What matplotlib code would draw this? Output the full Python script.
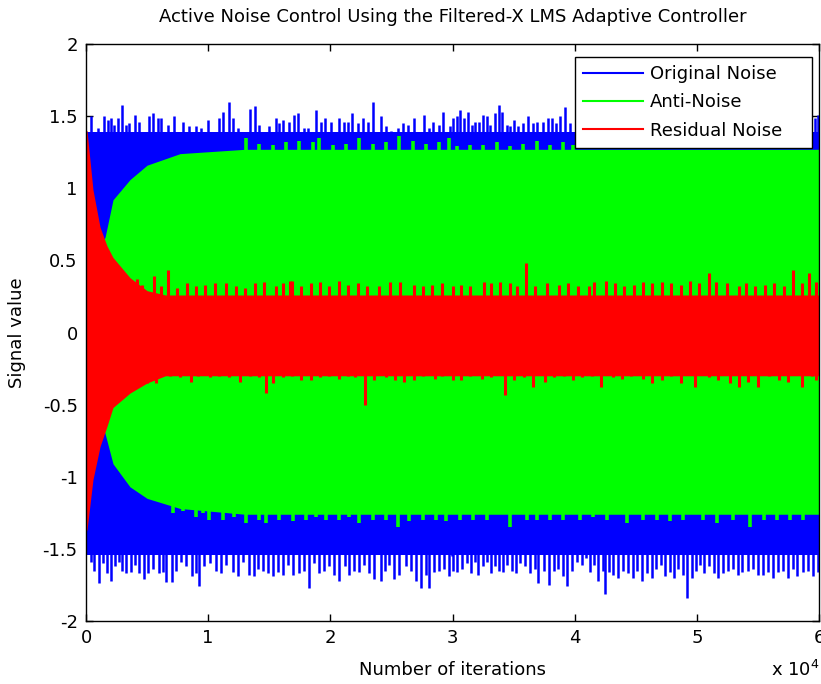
import numpy as np
import matplotlib
matplotlib.use('Agg')
import matplotlib.pyplot as plt

plt.rcParams['font.family'] = 'DejaVu Sans'
plt.rcParams['mathtext.default'] = 'regular'

# envelope of each signal (iterations -> signal value)
blue_env_x = [0, 60000]
blue_env_top = [1.39, 1.39]
blue_env_bot = [-1.54, -1.54]

green_env_x = [0, 570, 1150, 1560, 2210, 3600, 5000, 7700, 13000, 60000]
green_env_top = [0.0, 0.40, 0.60, 0.66, 0.92, 1.06, 1.16, 1.24, 1.27, 1.27]
green_env_bot = [0.0, -0.40, -0.62, -0.70, -0.91, -1.07, -1.15, -1.22, -1.26, -1.26]

red_env_x = [0, 80, 570, 1150, 1720, 2210, 3600, 5000, 6500, 60000]
red_env_top = [1.40, 1.40, 0.99, 0.73, 0.60, 0.52, 0.38, 0.29, 0.26, 0.26]
red_env_bot = [-1.37, -1.37, -1.02, -0.79, -0.65, -0.52, -0.42, -0.35, -0.30, -0.30]

# noise peaks above / below the envelopes
blue_peak_top_x = [409, 955, 1500, 1774, 2047, 2320, 2593, 2920, 3275, 3548, 4039, 4366, 4639,
                   5131, 5458, 5867, 6140, 6686, 7232, 7914, 8460, 9006, 9415, 9961, 10370,
                   10861, 11243, 11680, 12008, 12417, 12826, 13427, 13863, 14191, 14955, 15555,
                   15828, 16156, 16647, 17056, 17356, 17875, 18148, 18830, 19239, 19594, 20058,
                   20740, 21150, 21423, 21750, 22241, 22651, 23060, 23524, 24152, 24561, 24970,
                   25516, 25926, 26335, 26881, 27699, 28109, 28436, 28927, 29255, 29800, 30070,
                   30343, 30616, 30943, 31298, 31571, 31844, 32198, 32526, 32853, 33072, 33481,
                   33836, 34027, 34436, 34709, 35064, 35391, 35801, 36210, 36565, 36947, 37438,
                   37793, 38120, 38475, 38802, 39212, 39621, 59680, 59952]
blue_peak_top = [1.50, 1.42, 1.50, 1.47, 1.49, 1.44, 1.49, 1.58, 1.44, 1.45, 1.51, 1.46, 1.39,
                 1.50, 1.52, 1.49, 1.49, 1.44, 1.50, 1.46, 1.43, 1.43, 1.42, 1.47, 1.39,
                 1.49, 1.53, 1.60, 1.49, 1.42, 1.37, 1.55, 1.57, 1.44, 1.43, 1.49,
                 1.45, 1.47, 1.46, 1.51, 1.52, 1.42, 1.42, 1.54, 1.46, 1.49, 1.46,
                 1.49, 1.46, 1.46, 1.52, 1.45, 1.49, 1.46, 1.60, 1.50, 1.43, 1.40,
                 1.42, 1.45, 1.44, 1.49, 1.51, 1.42, 1.46, 1.44, 1.53, 1.43, 1.49,
                 1.50, 1.54, 1.49, 1.53, 1.44, 1.46, 1.46, 1.51, 1.50, 1.44, 1.52,
                 1.58, 1.53, 1.44, 1.43, 1.47, 1.43, 1.45, 1.50, 1.45, 1.46, 1.46,
                 1.49, 1.49, 1.45, 1.50, 1.56, 1.45, 1.49, 1.51]

blue_peak_bot_x = [409, 682, 1092, 1365, 1692, 2047, 2401, 2729, 2947, 3275, 3684, 4039, 4366,
                   4776, 5049, 5458, 5949, 6277, 6550, 7041, 7368, 7778, 8187, 8678, 9006, 9279,
                   9688, 10152, 10643, 11052, 11462, 12008, 12417, 12826, 13318, 13781, 14054,
                   14464, 14873, 15282, 15692, 16101, 16510, 16920, 17466, 17875, 18284, 18694,
                   19048, 19512, 19922, 20331, 20740, 21231, 21559, 21968, 22378, 22787, 23197,
                   23606, 24152, 24506, 24834, 25243, 25653, 26198, 26608, 27017, 27426, 27835,
                   28109, 28518, 28927, 29337, 29746, 30019,
                   29933, 30343, 30752, 31162, 31489, 31844, 32116, 32526, 32853, 33126, 33481,
                   33836, 34163, 34491, 34846, 35200, 35528, 35937, 36347, 36756, 37029, 37493,
                   37929, 38311, 38666, 39021, 39403, 39758, 40167, 40576, 40931, 41259, 41600,
                   41941, 42296, 42487, 42842, 43169, 43578, 43988, 44397, 44752, 45107, 45516,
                   45898, 46307, 46662, 47071, 47398, 47808, 48162, 48490, 48845, 49172, 49608,
                   49936, 50263, 50618, 51000, 51409, 51764, 52173, 52555, 52965, 53401, 53729,
                   54166, 54575, 54984, 55394, 55803, 56212, 56621, 57031, 57440, 57849, 58231,
                   58667, 59077, 59486, 59950]
blue_peak_bot = [-1.59, -1.65, -1.74, -1.60, -1.67, -1.72, -1.62, -1.59, -1.65, -1.67, -1.66, -1.61, -1.67,
                 -1.71, -1.67, -1.64, -1.67, -1.66, -1.73, -1.73, -1.65, -1.59, -1.62, -1.69, -1.67, -1.76,
                 -1.62, -1.60, -1.65, -1.67, -1.61, -1.66, -1.69, -1.59, -1.68, -1.69, -1.64,
                 -1.65, -1.67, -1.69, -1.66, -1.68, -1.61, -1.68, -1.67, -1.65, -1.77, -1.60,
                 -1.67, -1.65, -1.62, -1.68, -1.72, -1.62, -1.68, -1.65, -1.66, -1.61, -1.67,
                 -1.71, -1.72, -1.65, -1.61, -1.71, -1.68, -1.62, -1.65, -1.72, -1.77, -1.68,
                 -1.77, -1.66, -1.65, -1.64, -1.69, -1.65,
                 -1.55, -1.66, -1.64, -1.60, -1.67, -1.59, -1.68, -1.62, -1.59, -1.67, -1.62,
                 -1.65, -1.66, -1.61, -1.65, -1.67, -1.60, -1.62, -1.67, -1.64, -1.74, -1.65,
                 -1.75, -1.65, -1.64, -1.69, -1.76, -1.65, -1.59, -1.61, -1.56, -1.66, -1.61,
                 -1.72, -1.65, -1.81, -1.66, -1.68, -1.70, -1.65, -1.67, -1.70, -1.65, -1.72,
                 -1.67, -1.70, -1.64, -1.61, -1.69, -1.66, -1.70, -1.64, -1.68, -1.84, -1.70,
                 -1.65, -1.61, -1.67, -1.62, -1.67, -1.70, -1.67, -1.65, -1.64, -1.68, -1.66,
                 -1.65, -1.64, -1.68, -1.68, -1.66, -1.70, -1.66, -1.65, -1.70, -1.64, -1.69,
                 -1.66, -1.65, -1.69, -1.66]

green_peak_top_x = [13100, 14190, 15280, 16370, 17470, 18560, 19100, 20190, 21290, 22380, 23470,
                    24560, 25650, 26740, 27840, 28930, 29750, 30340, 31435, 32530, 33620, 34710,
                    35800, 36890, 37980, 39075, 39900]
green_peak_top = [1.35, 1.31, 1.30, 1.32, 1.33, 1.32, 1.35, 1.30, 1.31, 1.35, 1.31,
                  1.32, 1.36, 1.33, 1.31, 1.32, 1.35, 1.29, 1.30, 1.30, 1.32, 1.29,
                  1.31, 1.33, 1.30, 1.32, 1.30]

green_peak_bot_x = [7095, 7914, 9006, 9552, 10097, 11189, 12144, 13099, 14191, 14737, 15828, 16920,
                    18011, 18830, 19649, 20740, 21559, 22378, 23469, 24561, 25516, 26471, 27563,
                    28654, 29473, 30616, 31707, 32799, 34709, 36074, 36892, 37984, 39076, 40440,
                    41532, 42623, 44260, 45625, 46717, 47808, 48899, 50537, 51628, 53001, 54349,
                    55538, 56539, 57631, 58722]
green_peak_bot = [-1.25, -1.24, -1.28, -1.25, -1.30, -1.30, -1.28, -1.32, -1.30, -1.32, -1.30, -1.31,
                  -1.30, -1.28, -1.30, -1.30, -1.28, -1.32, -1.30, -1.30, -1.35, -1.31, -1.30,
                  -1.30, -1.31, -1.30, -1.30, -1.30, -1.35, -1.30, -1.30, -1.30, -1.30, -1.30,
                  -1.28, -1.30, -1.32, -1.30, -1.30, -1.31, -1.30, -1.30, -1.32, -1.30, -1.35,
                  -1.30, -1.30, -1.30, -1.30]

red_peak_top_x = [4215, 4598, 5556, 6131, 6706, 7472, 8239, 9005, 9772, 10538, 11496, 12262, 13029,
                  13795, 14562, 15520, 16094, 16669, 16861, 17627, 18394, 19160, 19926, 20693,
                  21459, 22226, 22992, 23950, 24908, 25674, 26824, 27590, 28357, 29123, 30081,
                  30656, 31422, 32572, 33147, 33913, 34680, 35254, 36021, 36787, 37745, 38703,
                  39472, 40236, 41194, 41577, 42535, 43302, 44068, 44834, 45601, 46367, 47134,
                  47900, 48666, 49433, 50199, 50966, 51540, 52498, 53456, 54031, 54797, 55564,
                  56330, 57096, 57863, 58629, 59204, 59779]
red_peak_top = [0.37, 0.33, 0.39, 0.32, 0.43, 0.31, 0.34, 0.32, 0.33, 0.34, 0.34, 0.32, 0.31,
                0.34, 0.35, 0.32, 0.34, 0.36, 0.36, 0.32, 0.34, 0.35, 0.32, 0.36,
                0.33, 0.34, 0.32, 0.32, 0.35, 0.35, 0.33, 0.32, 0.33, 0.34, 0.32,
                0.33, 0.32, 0.35, 0.34, 0.35, 0.34, 0.32, 0.48, 0.32, 0.34, 0.33,
                0.34, 0.32, 0.32, 0.35, 0.36, 0.34, 0.32, 0.33, 0.35, 0.34, 0.35,
                0.34, 0.33, 0.36, 0.34, 0.41, 0.35, 0.34, 0.32, 0.34, 0.32, 0.33,
                0.34, 0.32, 0.43, 0.34, 0.41, 0.35]

red_peak_bot_x = [4215, 4982, 5748, 6898, 7664, 8622, 9197, 10155, 10921, 11688, 12646, 13412,
                  14179, 14754, 15328, 16094, 16861, 17627, 18394, 19160, 19926, 20693, 21459,
                  22034, 22877, 23567, 24525, 25291, 26058, 26824, 27590, 28548, 29123, 30081,
                  30656, 31422, 32380, 33147, 34297, 35063, 35829, 36596, 37553, 38320, 39086,
                  39852, 40619, 41385, 42152, 43110, 43876, 44643, 45601, 46367, 47134, 47900,
                  48666, 49816, 50966, 51732, 52690, 53456, 54223, 54989, 55947, 56713, 57479,
                  58629, 59396, 59779]
red_peak_bot = [-0.38, -0.35, -0.35, -0.30, -0.31, -0.34, -0.30, -0.31, -0.30, -0.31, -0.34, -0.30,
                -0.31, -0.42, -0.35, -0.31, -0.30, -0.33, -0.33, -0.31, -0.30, -0.32, -0.30,
                -0.31, -0.50, -0.33, -0.31, -0.33, -0.34, -0.33, -0.30, -0.32, -0.30, -0.33,
                -0.33, -0.30, -0.32, -0.31, -0.43, -0.33, -0.31, -0.38, -0.34, -0.31, -0.30,
                -0.33, -0.31, -0.30, -0.38, -0.31, -0.32, -0.30, -0.32, -0.35, -0.33, -0.30,
                -0.35, -0.38, -0.31, -0.33, -0.35, -0.38, -0.34, -0.38, -0.30, -0.33, -0.34,
                -0.38, -0.30, -0.33]

x_ticks = [0, 10000, 20000, 30000, 40000, 50000, 60000]
x_tick_labels = ['0', '1', '2', '3', '4', '5', '6']
y_ticks = [-2, -1.5, -1, -0.5, 0, 0.5, 1, 1.5, 2]
y_tick_labels = ['-2', '-1.5', '-1', '-0.5', '0', '0.5', '1', '1.5', '2']

fig = plt.figure(figsize=(8.21, 6.84), dpi=100)
ax = fig.add_axes([86 / 821, 1 - 621 / 684, 733 / 821, 577 / 684])

series = [
    ('Original Noise', '#0000ff', 1.8, blue_env_x, blue_env_top, blue_env_bot,
     blue_peak_top_x, blue_peak_top, blue_peak_bot_x, blue_peak_bot),
    ('Anti-Noise', '#00ff00', 2.6, green_env_x, green_env_top, green_env_bot,
     green_peak_top_x, green_peak_top, green_peak_bot_x, green_peak_bot),
    ('Residual Noise', '#ff0000', 2.2, red_env_x, red_env_top, red_env_bot,
     red_peak_top_x, red_peak_top, red_peak_bot_x, red_peak_bot),
]

# each signal: filled envelope plus its noise peaks, later signals drawn on top
for i, (name, color, w, ex, et, eb, ptx, pt, pbx, pb) in enumerate(series):
    z = 2 + i
    ax.fill_between(ex, eb, et, color=color, lw=0, zorder=z)
    ax.vlines(ptx, 0, pt, color=color, lw=w, zorder=z)
    ax.vlines(pbx, pb, 0, color=color, lw=w, zorder=z)
    ax.plot([], [], color=color, lw=1.5, label=name)

ax.set_xlim(0, 60000)
ax.set_ylim(-2, 2)
ax.set_xticks(x_ticks)
ax.set_xticklabels(x_tick_labels)
ax.set_yticks(y_ticks)
ax.set_yticklabels(y_tick_labels)
ax.tick_params(direction='in', length=5, width=1, top=True, right=True, labelsize=13, pad=6)
for s in ax.spines.values():
    s.set_linewidth(1.0)
    s.set_zorder(10)

ax.set_title('Active Noise Control Using the Filtered-X LMS Adaptive Controller', fontsize=13, pad=16)
ax.set_xlabel('Number of iterations', fontsize=13, labelpad=10)
ax.set_ylabel('Signal value', fontsize=13, labelpad=12)
fig.text(771 / 821, 1 - 676 / 684, r'x 10$^4$', fontsize=13)

# legend box pinned to the upper right corner of the axes
leg = ax.legend(loc='upper left', bbox_to_anchor=(489 / 733, (621 - 57) / 577, 237 / 733, 0),
                mode='expand', fontsize=13, fancybox=False,
                framealpha=1, edgecolor='black', handlelength=3.3, handletextpad=0.4,
                labelspacing=0.57, borderpad=0.45, borderaxespad=0)
leg.get_frame().set_linewidth(1.0)
leg.set_zorder(20)

plt.savefig('out.png', dpi=100)
